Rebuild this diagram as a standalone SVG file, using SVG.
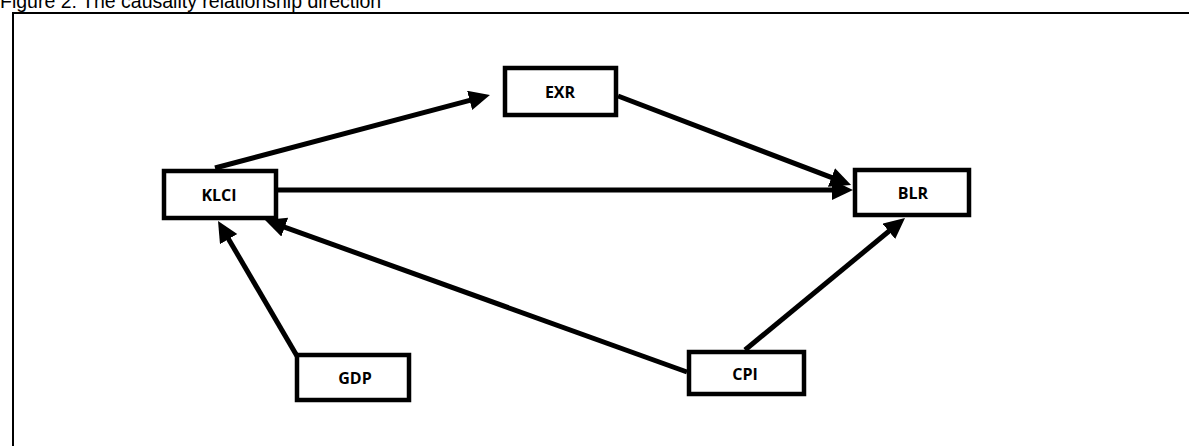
<svg xmlns="http://www.w3.org/2000/svg" width="1189" height="446" viewBox="0 0 1189 446">
<style>
.title{font-family:"Liberation Sans",Arial,sans-serif;font-size:19.5px;fill:#000}
.box{fill:#fff;stroke:#000;stroke-width:4.5}
.lbl{font-family:"Open Sans","Liberation Sans",sans-serif;font-weight:bold;font-size:16px;fill:#000;text-anchor:middle}
.edge{stroke:#000;stroke-width:5;fill:none;marker-end:url(#ah)}
</style>
<defs>
<marker id="ah" markerUnits="userSpaceOnUse" markerWidth="24" markerHeight="22" refX="4" refY="10" orient="auto">
<path d="M0,0 L21,10 L0,20 z" fill="#000"/>
</marker>
</defs>
<rect width="1189" height="446" fill="#fff"/>
<text class="title" x="0" y="8">Figure 2: The causality relationship direction</text>
<rect x="13" y="13" width="1200" height="500" fill="none" stroke="#000" stroke-width="2"/>
<g id="connectors">
<line class="edge" x1="215" y1="168" x2="473.5" y2="99.4"/>
<line class="edge" x1="278" y1="190" x2="836" y2="190"/>
<line class="edge" x1="618" y1="96" x2="835.2" y2="178.9"/>
<line class="edge" x1="297" y1="356" x2="226.6" y2="235.7"/>
<line class="edge" x1="687" y1="372" x2="281.0" y2="225.8"/>
<line class="edge" x1="745" y1="350" x2="891.9" y2="228.8"/>
</g>
<g id="KLCI"><rect class="box" x="164" y="171" width="112" height="47"/><text class="lbl" x="219" y="201">KLCI</text></g>
<g id="EXR"><rect class="box" x="505" y="68" width="111" height="47"/><text class="lbl" x="560" y="98">EXR</text></g>
<g id="BLR"><rect class="box" x="855" y="170" width="114" height="45"/><text class="lbl" x="913" y="199">BLR</text></g>
<g id="GDP"><rect class="box" x="297" y="355" width="112" height="45"/><text class="lbl" x="355" y="384">GDP</text></g>
<g id="CPI"><rect class="box" x="689" y="352" width="115" height="42"/><text class="lbl" x="745" y="380">CPI</text></g>
</svg>
